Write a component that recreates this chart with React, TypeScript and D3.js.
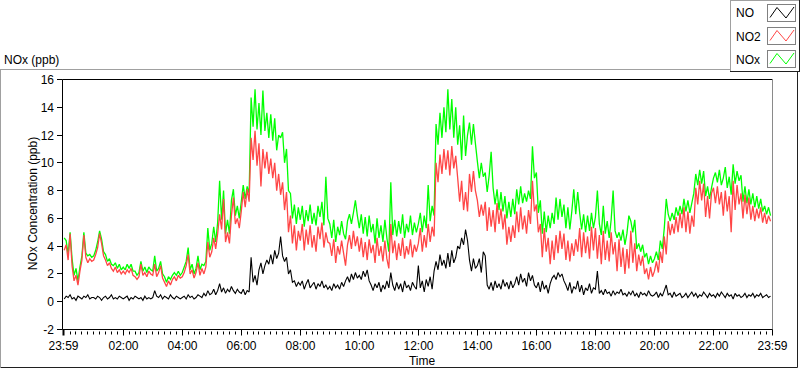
import React from 'react';
import * as d3 from 'd3';

// Sample interval (minutes) of the recorded series, starting at 00:00
const STEP_MIN = 4;

// NO (ppb) — black
const NO = [
  0.2,0.4,0.3,0.5,0.2,0.3,0.1,0.4,0.3,0.2,0.4,0.3,0.5,0.2,0.3,
  0.3,0.2,0.4,0.3,0.1,0.3,0.4,0.2,0.3,0.5,0.2,0.3,0.2,0.4,0.3,
  0.2,0.3,0.4,0.1,0.3,0.2,0.4,0.3,0.2,0.3,0.1,0.4,0.2,0.3,0.2,
  0.3,0.8,0.4,0.3,0.5,0.2,0.4,0.3,0.2,0.5,0.3,0.2,0.4,0.3,0.2,
  0.3,0.4,0.2,0.5,0.3,0.4,0.2,0.3,0.5,0.4,0.3,0.6,0.4,0.8,0.5,
  0.6,0.9,0.5,0.8,1.3,0.7,1.0,0.6,0.9,0.7,1.1,0.8,0.6,0.9,0.7,
  0.6,0.9,0.5,0.8,0.7,3.2,1.4,1.9,1.2,2.3,2.8,2.0,2.6,3.0,2.7,
  3.4,2.7,3.7,3.1,3.5,4.7,3.3,2.9,3.2,2.0,2.3,1.4,1.5,1.1,1.4,
  1.2,1.5,0.9,1.3,1.6,1.0,1.2,1.4,0.9,1.3,1.1,1.5,1.0,1.2,0.9,
  1.1,0.8,1.3,1.0,1.2,0.9,1.4,1.1,1.5,1.8,1.4,2.0,1.6,2.1,1.7,
  1.9,1.6,2.2,1.8,2.3,1.5,1.2,0.8,1.3,1.0,1.4,0.7,1.2,0.9,1.5,
  1.0,2.1,1.2,0.8,1.4,0.9,1.3,0.7,1.5,1.0,1.2,0.8,1.4,1.1,0.9,
  2.6,1.0,1.5,0.7,1.6,1.1,1.8,0.9,2.2,2.9,2.3,3.4,2.6,3.0,2.4,
  3.5,2.5,3.7,2.8,3.2,4.0,3.8,4.6,4.1,5.2,4.4,3.0,2.2,3.1,2.4,
  2.6,3.1,2.1,3.6,3.3,1.2,0.9,1.4,0.8,1.5,1.0,1.3,0.9,1.6,1.1,
  1.4,0.9,1.5,1.0,1.3,1.8,1.2,2.0,1.4,1.7,1.1,2.1,1.5,1.9,1.2,
  1.0,1.4,0.7,1.5,0.9,1.2,0.6,1.3,1.7,1.9,1.6,2.1,1.8,2.0,1.5,
  1.2,0.8,1.4,0.6,1.1,0.9,1.5,0.7,1.2,0.5,1.0,0.8,1.3,0.6,1.0,
  0.9,2.2,0.6,0.8,0.5,0.9,0.6,0.7,0.4,0.8,0.5,0.7,0.6,0.9,0.5,
  0.6,0.4,0.7,0.5,0.8,0.4,0.6,0.3,0.7,0.5,0.6,0.4,0.8,0.5,0.4,
  0.5,0.7,0.3,0.6,0.4,0.8,1.2,0.5,0.6,0.3,0.7,0.4,0.5,0.6,0.3,
  0.4,0.6,0.3,0.5,0.7,0.4,0.6,0.3,0.5,0.4,0.7,0.5,0.3,0.6,0.4,
  0.5,0.3,0.6,0.4,0.7,0.5,0.3,0.6,0.4,0.5,0.2,0.6,0.4,0.5,0.3,
  0.4,0.6,0.3,0.5,0.4,0.6,0.3,0.5,0.4,0.6,0.3,0.4,0.5,0.3,0.4,
];

// NO2 (ppb) — red
const NO2 = [
  3.7,4.1,3.0,4.9,2.6,1.5,1.9,1.2,2.2,3.0,4.8,3.2,2.8,3.1,2.9,
  3.0,3.4,3.9,4.9,4.2,3.3,3.0,2.6,2.8,2.4,2.2,2.5,2.1,2.3,2.0,
  2.2,2.0,2.3,2.1,2.4,1.9,1.8,1.6,1.8,2.7,1.9,2.1,1.8,2.2,2.0,
  1.9,2.7,1.8,2.1,2.6,1.7,1.4,1.1,1.5,1.2,1.6,1.8,1.5,1.9,1.7,
  1.8,2.1,2.6,3.4,2.0,2.3,1.7,2.1,2.8,1.9,2.4,2.0,2.5,4.3,3.2,
  3.6,4.6,3.8,4.9,6.3,5.2,7.4,4.3,5.0,4.2,6.2,7.5,5.6,6.0,5.3,
  6.5,7.9,6.8,8.1,7.2,11.8,10.2,12.3,9.8,11.4,8.3,11.0,9.6,10.8,9.2,
  10.3,8.9,10.0,8.0,9.2,7.7,8.6,6.6,7.9,5.0,6.2,4.2,5.5,3.7,5.1,
  4.4,5.6,3.7,5.2,4.1,5.5,3.9,4.8,3.6,5.4,4.5,5.7,3.9,5.0,4.3,
  4.2,3.3,4.5,2.8,4.0,3.4,4.4,3.5,2.6,4.1,4.8,3.8,5.1,4.0,4.7,
  3.6,4.6,3.2,4.3,3.0,4.5,3.5,4.1,2.8,4.6,3.3,4.0,2.9,4.4,3.1,
  2.4,5.6,3.5,4.4,3.0,4.2,3.3,4.6,3.1,4.0,3.4,4.5,3.2,4.1,3.6,
  4.2,5.3,3.6,4.8,3.9,5.6,4.3,5.4,4.7,10.0,8.6,10.6,9.2,11.0,9.5,
  10.9,9.1,11.2,9.6,10.5,8.9,7.2,8.7,6.6,7.9,6.5,9.2,7.9,9.4,8.0,
  7.3,6.1,7.0,6.2,7.2,5.1,6.8,5.4,6.6,5.0,7.1,5.6,6.7,5.2,6.3,
  4.1,5.4,4.3,5.5,4.6,6.5,5.0,6.8,5.2,6.2,4.9,6.6,5.6,8.7,6.5,
  7.0,5.0,5.6,3.2,5.3,3.6,4.6,2.7,4.4,3.0,4.8,3.5,5.1,3.8,4.9,
  3.0,4.4,2.9,4.2,3.3,4.5,3.6,5.3,3.2,5.0,3.5,4.7,3.1,5.4,3.7,
  5.3,3.1,4.8,2.7,5.1,3.0,4.4,2.9,5.0,3.4,4.3,2.2,4.5,2.5,3.9,
  2.0,3.8,2.4,5.1,2.8,4.2,2.2,3.4,2.6,3.3,2.0,2.4,1.6,2.5,1.8,
  2.2,2.9,2.1,3.6,2.8,4.7,3.4,5.8,4.8,5.6,4.9,6.1,5.0,6.4,5.3,
  6.8,5.0,6.5,4.9,6.2,5.4,8.2,7.0,8.7,7.3,8.5,6.1,7.6,6.0,7.8,
  8.2,7.1,8.3,7.0,7.9,6.2,8.0,6.5,7.6,5.0,8.7,6.6,8.4,7.0,7.8,
  6.0,7.7,6.3,7.5,5.9,6.9,5.8,6.7,6.0,6.8,5.7,6.4,5.6,6.2,5.8,
];

// NOx (ppb) — green
const NOX = [
  4.6,4.4,3.4,5.0,3.1,1.9,2.4,1.5,2.5,3.3,5.0,3.5,3.3,3.4,3.2,
  3.3,3.7,4.3,5.1,4.5,3.6,3.4,2.9,3.1,2.7,2.6,2.8,2.4,2.7,2.3,
  2.5,2.3,2.7,2.4,2.7,2.2,2.2,1.9,2.1,2.9,2.2,2.5,2.1,2.5,2.3,
  2.2,3.3,2.2,2.4,2.9,2.0,1.8,1.4,1.8,1.6,1.9,2.1,1.9,2.2,1.9,
  2.1,2.5,2.9,3.9,2.3,2.7,2.0,2.4,3.3,2.3,2.7,2.6,2.9,5.3,3.7,
  4.2,5.4,4.3,5.7,8.7,5.9,8.0,4.9,5.9,4.9,7.3,8.1,6.2,6.9,6.0,
  7.2,8.4,7.4,8.3,7.8,14.7,12.6,15.3,12.4,14.3,12.0,15.2,12.3,13.6,11.8,
  13.5,11.6,13.2,10.9,12.0,11.8,12.2,10.0,11.0,8.0,7.8,6.0,7.0,5.6,6.8,
  5.9,6.9,5.4,6.6,5.8,7.0,5.6,6.4,5.5,6.9,6.1,7.2,5.5,9.0,6.0,
  5.6,4.6,5.9,4.3,5.4,4.8,5.8,4.9,4.5,5.8,6.3,5.6,6.4,7.3,6.2,
  5.3,6.3,4.9,6.1,4.7,6.2,5.0,5.6,4.2,6.0,4.6,5.5,4.3,5.9,4.6,
  3.6,8.6,4.8,5.9,4.7,5.8,4.9,6.3,4.6,5.6,5.0,6.2,4.8,5.7,5.0,
  5.6,6.4,5.0,6.2,5.3,8.4,5.8,6.9,6.2,12.8,11.3,13.6,11.8,14.0,12.2,
  15.3,12.4,14.6,11.8,14.0,11.3,12.7,10.2,13.4,10.5,12.0,12.9,11.3,12.8,11.4,
  10.1,8.9,10.0,9.0,9.3,7.9,9.1,10.8,8.2,7.0,8.1,6.6,7.9,6.5,7.6,
  6.0,7.2,6.1,7.4,6.3,8.1,7.0,8.3,7.1,7.8,7.2,8.0,7.4,11.2,8.9,
  9.3,6.4,7.3,4.9,6.5,5.0,6.2,5.3,6.4,5.6,7.5,5.9,7.4,6.1,7.0,
  5.3,6.8,5.2,6.5,8.1,6.3,7.9,6.4,5.2,6.3,5.0,6.2,5.1,6.4,5.3,
  6.1,8.0,5.6,4.8,6.9,4.9,5.8,4.6,5.9,8.0,5.1,4.6,5.0,4.4,5.2,
  4.1,4.9,6.2,5.8,5.0,5.9,3.8,4.2,3.6,4.1,3.2,3.5,2.7,3.3,2.8,
  3.1,3.6,3.0,4.4,3.8,5.3,7.4,6.3,5.8,6.4,5.9,6.8,6.2,6.9,6.3,
  7.4,6.5,7.3,6.4,7.1,7.8,9.2,8.4,9.5,8.5,9.4,7.6,8.3,7.4,8.2,
  8.9,9.3,8.6,9.5,8.4,8.9,9.7,8.2,9.0,7.7,9.9,8.5,9.4,8.7,9.1,
  7.2,8.3,7.1,8.1,7.0,7.8,6.8,7.6,6.7,7.4,6.5,6.9,6.3,6.8,6.2,
];

const Y_TICKS = [-2, 0, 2, 4, 6, 8, 10, 12, 14, 16];
const X_TICK_MINUTES = [-1, 120, 240, 360, 480, 600, 720, 840, 960, 1080, 1200, 1320, 1439];
const X_TICK_LABELS = ['23:59', '02:00', '04:00', '06:00', '08:00', '10:00', '12:00', '14:00', '16:00', '18:00', '20:00', '22:00', '23:59'];
const MINOR_STEP_MIN = 12;

const SERIES_NAMES = ['NO', 'NO2', 'NOx'];
const SERIES_COLORS = ['#000000', '#ff4646', '#00ff00'];

const FONT = "'Liberation Sans', Arial, sans-serif";

export default function App() {
  const W = 800, H = 369;
  const plotL = 62.5, plotR = 772.5, plotT = 79.5, plotB = 329.5;
  const x = d3.scaleLinear().domain([-1, 1439]).range([63.7, 772]);
  const y = d3.scaleLinear().domain([-2, 16]).range([plotB, plotT]);

  const lineGen = d3.line<number>()
    .x((_, i) => x(i * STEP_MIN))
    .y((d) => y(d));

  const minorTicks = d3.range(MINOR_STEP_MIN, 1440, MINOR_STEP_MIN).filter((m) => m % 120 !== 0);

  const legendRows = [12.8, 36, 59.2];

  return (
    <svg width={W} height={H} style={{ position: 'absolute', left: 0, top: 0, background: '#fff' }}
      fontFamily={FONT} fontSize={12}>
      <rect x={0} y={0} width={W} height={H} fill="#fff" />
      <defs>
        <clipPath id="plotclip">
          <rect x={plotL} y={plotT} width={plotR - plotL} height={plotB - plotT} />
        </clipPath>
      </defs>

      {/* outer frame */}
      <line x1={0} y1={69.5} x2={730} y2={69.5} stroke="#a0a0a0" />
      <line x1={0.5} y1={69.5} x2={0.5} y2={367} stroke="#a0a0a0" />
      <line x1={0.5} y1={367.5} x2={797.5} y2={367.5} stroke="#202020" />
      <line x1={797.5} y1={72} x2={797.5} y2={367.5} stroke="#202020" />

      {/* title */}
      <text x={4} y={64} fill="#000">NOx (ppb)</text>

      {/* plot area border */}
      <line x1={plotL} y1={plotT} x2={plotR} y2={plotT} stroke="#000" />
      <line x1={plotR} y1={plotT} x2={plotR} y2={plotB} stroke="#8a8a8a" />

      {/* data */}
      <g clipPath="url(#plotclip)" fill="none" strokeWidth={1.3} strokeLinejoin="miter" strokeMiterlimit={2}>
        <path d={lineGen(NOX) || ''} stroke={SERIES_COLORS[2]} />
        <path d={lineGen(NO2) || ''} stroke={SERIES_COLORS[1]} />
        <path d={lineGen(NO) || ''} stroke={SERIES_COLORS[0]} strokeWidth={1.1} />
      </g>

      {/* axes lines */}
      <line x1={plotL} y1={plotT} x2={plotL} y2={plotB} stroke="#000" />
      <line x1={plotL} y1={plotB} x2={plotR} y2={plotB} stroke="#000" />

      {/* y ticks */}
      {Y_TICKS.map((v) => {
        const yy = Math.round(y(v) - 0.5) + 0.5;
        return (
          <g key={v}>
            <line x1={57} x2={plotL} y1={yy} y2={yy} stroke="#000" />
            <text x={54} y={yy + 4.5} textAnchor="end" fill="#000">{v}</text>
          </g>
        );
      })}

      {/* x minor ticks */}
      {minorTicks.map((m) => {
        const xx = Math.round(x(m) - 0.5) + 0.5;
        return <line key={m} x1={xx} x2={xx} y1={plotB + 2} y2={plotB + 5} stroke="#000" />;
      })}
      {/* x major ticks */}
      {X_TICK_MINUTES.map((m, i) => {
        const xx = Math.round(x(m) - 0.5) + 0.5;
        return (
          <g key={'M' + i}>
            <line x1={xx} x2={xx} y1={plotB} y2={plotB + 6} stroke="#000" strokeWidth={i === 0 ? 2 : 1} />
            <text x={xx} y={349.5} textAnchor="middle" fill="#000">{X_TICK_LABELS[i]}</text>
          </g>
        );
      })}

      {/* axis titles */}
      <text x={422} y={365} textAnchor="middle" fill="#000">Time</text>
      <text transform="translate(36.5,203.5) rotate(-90)" textAnchor="middle" fill="#000">NOx Concentration (ppb)</text>

      {/* legend */}
      <rect x={730} y={0} width={69} height={72} fill="#fff" />
      <line x1={730.5} y1={0} x2={730.5} y2={72} stroke="#a0a0a0" />
      <line x1={730} y1={0.5} x2={799} y2={0.5} stroke="#a0a0a0" />
      <line x1={799.5} y1={0} x2={799.5} y2={72} stroke="#202020" />
      <line x1={730} y1={71.5} x2={800} y2={71.5} stroke="#202020" />
      {SERIES_NAMES.map((name, i) => {
        const cy = legendRows[i];
        const top = Math.round(cy - 9) + 0.5;
        return (
          <g key={name}>
            <text x={736} y={cy + 4.5} fill="#000">{name}</text>
            <rect x={767.5} y={top} width={28} height={17} fill="#fff" stroke="#808080" />
            <polyline
              points={`${770},${top + 13} ${777},${top + 3} ${786},${top + 13.5} ${794},${top + 2.5}`}
              fill="none" stroke={SERIES_COLORS[i]} strokeWidth={1} />
          </g>
        );
      })}
    </svg>
  );
}
